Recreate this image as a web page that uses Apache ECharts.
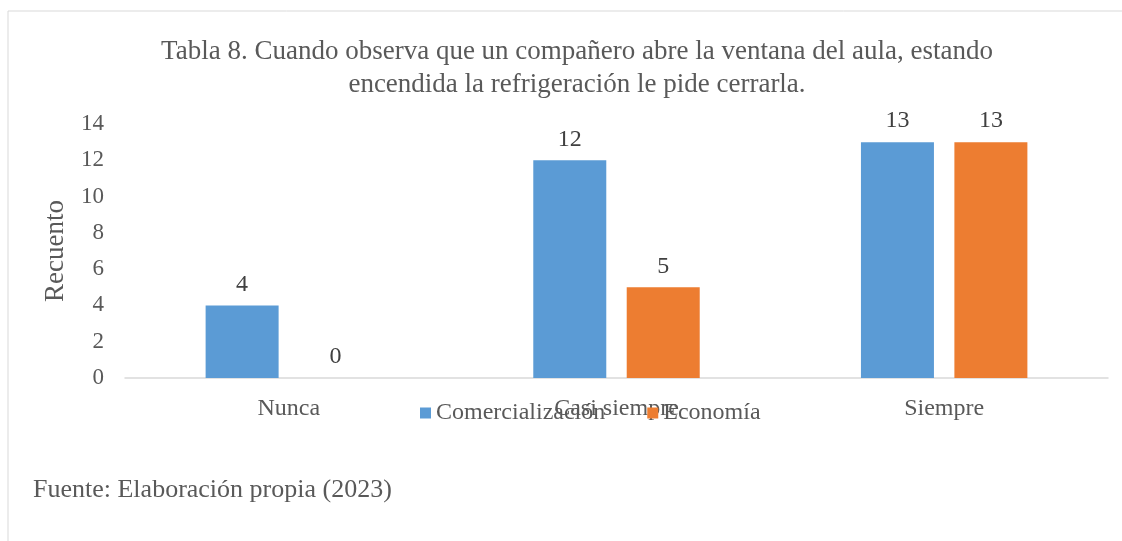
<!DOCTYPE html>
<html>
<head>
<meta charset="utf-8">
<script src="https://cdn.jsdelivr.net/npm/echarts@6/dist/echarts.min.js"></script>
<style>
  html, body { margin: 0; padding: 0; background: #fff; }
  #chart { width: 1122px; height: 541px; }
</style>
</head>
<body>
<div id="chart"></div>
<script>
var categorias = ['Nunca', 'Casi siempre', 'Siempre'];
var comercializacion = [4, 12, 13];
var economia = [0, 5, 13];
var ticksY = [0, 2, 4, 6, 8, 10, 12, 14];

var fuente = 'Liberation Serif, Times New Roman, serif';
var gris = '#595959';

var myChart = echarts.init(document.getElementById('chart'));
myChart.setOption({
  textStyle: { fontFamily: fuente },
  graphic: [
    // marco
    { type: 'line', shape: { x1: 8, y1: 11, x2: 1122, y2: 11 }, style: { stroke: '#d9d9d9', lineWidth: 1 } },
    { type: 'line', shape: { x1: 8, y1: 11, x2: 8, y2: 541 }, style: { stroke: '#d9d9d9', lineWidth: 1 } },
    {
      type: 'text', left: 33, top: 477,
      style: { text: 'Fuente: Elaboración propia (2023)', font: '26px ' + fuente, fill: gris }
    }
  ],
  title: {
    text: 'Tabla 8. Cuando observa que un compañero abre la ventana del aula, estando\nencendida la refrigeración le pide cerrarla.',
    left: 572, top: 30, textAlign: 'center',
    textStyle: { fontFamily: fuente, fontSize: 27, fontWeight: 'normal', color: gris, lineHeight: 33 }
  },
  legend: {
    data: ['Comercialización', 'Economía'],
    left: 415, top: 396,
    itemWidth: 11, itemHeight: 11, itemGap: 42,
    icon: 'rect',
    textStyle: { fontFamily: fuente, fontSize: 24, color: gris }
  },
  grid: { left: 125, right: 14, top: 124, bottom: 163 },
  xAxis: {
    type: 'category',
    data: categorias,
    axisLine: { lineStyle: { color: '#d9d9d9', width: 1.5 } },
    axisTick: { show: false },
    axisLabel: { fontSize: 24, color: gris, margin: 19, fontFamily: fuente }
  },
  yAxis: {
    type: 'value',
    min: ticksY[0], max: ticksY[ticksY.length - 1], interval: 2,
    name: 'Recuento',
    nameLocation: 'middle', nameGap: 56,
    nameTextStyle: { fontSize: 27, color: gris, fontFamily: fuente },
    axisLine: { show: false },
    axisTick: { show: false },
    splitLine: { show: false },
    axisLabel: { fontSize: 23, color: gris, margin: 21, fontFamily: fuente }
  },
  series: [{
    name: 'Comercialización',
    type: 'bar',
    data: comercializacion,
    barWidth: 73,
    barGap: '28%',
    itemStyle: { color: '#5b9bd5' },
    label: { show: true, position: 'top', distance: 9, fontSize: 24, color: '#404040', fontFamily: fuente }
  }, {
    name: 'Economía',
    type: 'bar',
    data: economia,
    barWidth: 73,
    barGap: '28%',
    itemStyle: { color: '#ed7d31' },
    label: { show: true, position: 'top', distance: 9, fontSize: 24, color: '#404040', fontFamily: fuente }
  }]
});
</script>
</body>
</html>
